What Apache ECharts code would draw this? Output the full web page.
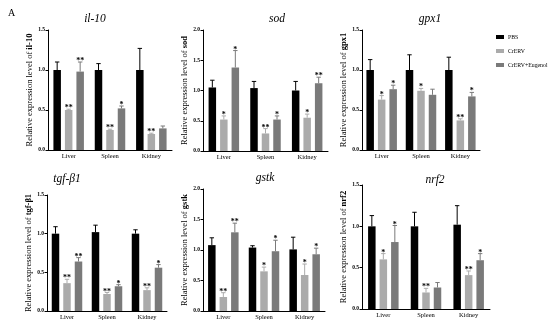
<!DOCTYPE html>
<html><head><meta charset="utf-8">
<script src="https://cdn.jsdelivr.net/npm/echarts@6/dist/echarts.min.js"></script>
<style>html,body{margin:0;padding:0;background:#fff}#c{width:550px;height:324px}</style>
</head><body><div id="c"></div>
<script>
const categories = ['Liver', 'Spleen', 'Kidney'];
const groups = ['PBS', 'CrERV', 'CrERV+Eugenol'];
const genes = ['il-10', 'sod', 'gpx1', 'tgf-β1', 'gstk', 'nrf2'];
const yMax = [1.5, 2.0, 1.5, 1.5, 2.0, 1.5];
const yTickStep = 0.5;

// rows: PBS, CrERV, CrERV+Eugenol ; cols: Liver, Spleen, Kidney
const il10Mean = [[1.00, 1.00, 1.00], [0.50, 0.25, 0.20], [0.98, 0.52, 0.27]];
const il10Err  = [[0.10, 0.08, 0.27], [0.01, 0.01, 0.01], [0.12, 0.03, 0.03]];
const il10Sig  = [['', '', ''], ['**', '**', '**'], ['**', '*', '']];

const sodMean = [[1.05, 1.04, 1.00], [0.52, 0.29, 0.55], [1.38, 0.52, 1.12]];
const sodErr  = [[0.12, 0.11, 0.15], [0.06, 0.08, 0.06], [0.28, 0.06, 0.10]];
const sodSig  = [['', '', ''], ['*', '**', '*'], ['*', '*', '**']];

const gpx1Mean = [[1.00, 1.00, 1.00], [0.63, 0.74, 0.37], [0.76, 0.69, 0.67]];
const gpx1Err  = [[0.13, 0.19, 0.16], [0.05, 0.03, 0.02], [0.05, 0.07, 0.05]];
const gpx1Sig  = [['', '', ''], ['*', '*', '**'], ['*', '', '*']];

const tgfMean = [[1.00, 1.02, 1.00], [0.36, 0.22, 0.27], [0.64, 0.32, 0.56]];
const tgfErr  = [[0.09, 0.09, 0.05], [0.05, 0.02, 0.03], [0.05, 0.02, 0.04]];
const tgfSig  = [['', '', ''], ['**', '**', '**'], ['**', '*', '*']];

const gstkMean = [[1.08, 1.04, 1.01], [0.23, 0.65, 0.59], [1.29, 0.98, 0.93]];
const gstkErr  = [[0.12, 0.03, 0.20], [0.07, 0.07, 0.18], [0.15, 0.18, 0.10]];
const gstkSig  = [['', '', ''], ['**', '*', '*'], ['**', '*', '*']];

const nrf2Mean = [[1.00, 1.00, 1.02], [0.60, 0.20, 0.41], [0.81, 0.26, 0.59]];
const nrf2Err  = [[0.13, 0.17, 0.23], [0.07, 0.05, 0.05], [0.20, 0.06, 0.08]];
const nrf2Sig  = [['', '', ''], ['*', '**', '**'], ['*', '', '*']];

const means = [il10Mean, sodMean, gpx1Mean, tgfMean, gstkMean, nrf2Mean];
const errs = [il10Err, sodErr, gpx1Err, tgfErr, gstkErr, nrf2Err];
const sigs = [il10Sig, sodSig, gpx1Sig, tgfSig, gstkSig, nrf2Sig];

const FONT = 'Liberation Serif';
const colors = ['#000000', '#ababab', '#7a7a7a'];
const BW = 7.5, GAP = 4;

const grids = [
  {left: 48, top: 30, width: 124, height: 120},
  {left: 203, top: 30, width: 125, height: 121},
  {left: 362, top: 30, width: 118, height: 120},
  {left: 47, top: 195, width: 120, height: 116},
  {left: 203, top: 189, width: 122, height: 122},
  {left: 362, top: 185, width: 128, height: 124}
];
const nameGaps = [13, 14, 12, 13, 14, 14];
const titlePos = [[90, 8], [272, 8], [425, 8], [62, 168], [260, 167], [430, 169]];

const xAxes = [], yAxes = [], series = [], titles = [];
titles.push({text: 'A', left: 3, top: 3, textStyle: {fontFamily: FONT, fontSize: 10, fontWeight: 'normal', color: '#000'}});

genes.forEach((g, k) => {
  titles.push({text: g, left: titlePos[k][0], top: titlePos[k][1], textAlign: 'center',
    textStyle: {fontFamily: FONT, fontSize: 11.5, fontStyle: 'italic', fontWeight: 'normal', color: '#000'}});
  xAxes.push({type: 'category', gridIndex: k, data: categories,
    axisLine: {lineStyle: {color: '#000', width: 1}},
    axisTick: {alignWithLabel: true, length: 2.5, lineStyle: {color: '#000'}},
    axisLabel: {fontFamily: FONT, fontSize: 6.5, color: '#000', margin: 3}});
  yAxes.push({type: 'value', gridIndex: k, min: 0, max: yMax[k], interval: yTickStep,
    name: '{n|Relative expression level of }{b|' + g + '}',
    nameLocation: 'middle', nameRotate: 90, nameGap: nameGaps[k],
    nameTextStyle: {rich: {
      n: {fontFamily: FONT, fontSize: 8.5, color: '#000'},
      b: {fontFamily: FONT, fontSize: 8.5, fontWeight: 'bold', color: '#000'}}},
    splitLine: {show: false},
    axisLine: {show: true, lineStyle: {color: '#000', width: 1}},
    axisTick: {show: true, length: 2.5, lineStyle: {color: '#000'}},
    axisLabel: {fontFamily: FONT, fontSize: 5.5, fontWeight: 'bold', color: '#000', margin: 3,
      formatter: v => v.toFixed(1)}});
  groups.forEach((grp, s) => {
    series.push({type: 'bar', name: grp, xAxisIndex: k, yAxisIndex: k,
      data: means[k][s], barWidth: BW, barGap: (GAP / BW * 100) + '%',
      itemStyle: {color: colors[s]}, silent: true, animation: false});
  });
  const eData = [];
  groups.forEach((grp, s) => categories.forEach((c, i) => eData.push([i, s, means[k][s][i], errs[k][s][i]])));
  series.push({type: 'custom', name: 'err' + k, xAxisIndex: k, yAxisIndex: k, data: eData,
    encode: {x: 0, y: 2}, clip: false, z: 5, animation: false, silent: true,
    renderItem: (params, api) => {
      const i = api.value(0), s = api.value(1), m = api.value(2), e = api.value(3);
      const b = api.coord([i, m]);
      const t = api.coord([i, m + e]);
      const x = b[0] + (s - 1) * (BW + GAP);
      const col = colors[s];
      const children = [
        {type: 'line', shape: {x1: x, y1: b[1], x2: x, y2: t[1]}, style: {stroke: col, lineWidth: 1}},
        {type: 'line', shape: {x1: x - 2.2, y1: t[1], x2: x + 2.2, y2: t[1]}, style: {stroke: col, lineWidth: 1}}
      ];
      const sg = sigs[k][s][i];
      if (sg) children.push({type: 'text', x: x, y: t[1] + 3,
        style: {text: sg, fontFamily: FONT, fontSize: 8, fontWeight: 'bold', fill: '#000',
          textAlign: 'center', textVerticalAlign: 'bottom'}});
      return {type: 'group', children};
    }});
});

const chart = echarts.init(document.getElementById('c'), null, {renderer: 'canvas'});
chart.setOption({
  animation: false,
  backgroundColor: '#fff',
  title: titles,
  legend: {data: groups, orient: 'vertical', left: 491, top: 29, icon: 'rect', itemWidth: 8, itemHeight: 4,
    itemGap: 8, selectedMode: false,
    textStyle: {fontFamily: FONT, fontSize: 5.8, color: '#000', padding: [0, 0, 0, -1]}},
  grid: grids,
  xAxis: xAxes,
  yAxis: yAxes,
  series: series
});
</script></body></html>
